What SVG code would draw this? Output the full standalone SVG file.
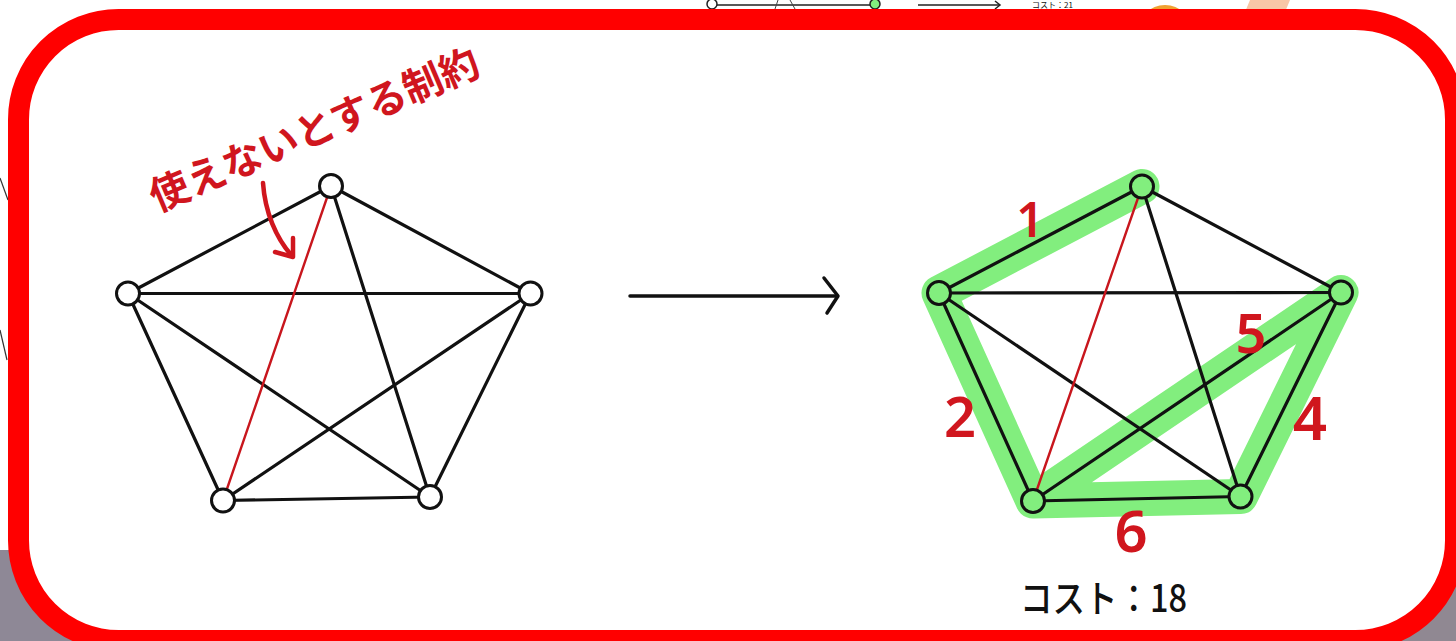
<svg xmlns="http://www.w3.org/2000/svg" width="1456" height="641" viewBox="0 0 1456 641">
  <style>
    .edge { stroke: #111; stroke-width: 3.2; stroke-linecap: round; fill: none; }
    .redge { stroke: #c8161d; stroke-width: 2.4; stroke-linecap: round; fill: none; }
    .node { stroke: #111; stroke-width: 3; fill: #ffffff; }
    .gnode { stroke: #111; stroke-width: 3; fill: #82ee7e; }
    .lbl { font-family: "Noto Sans", "Liberation Sans", sans-serif; font-weight: 600; fill: #d0161e; text-anchor: middle; }
    .jp { font-family: "Noto Sans CJK JP", "Noto Sans", sans-serif; }
  </style>

  <!-- background clutter from the screenshot -->
  <g id="background">
    <rect x="0" y="0" width="1456" height="641" fill="#ffffff"/>
    <rect x="0" y="550" width="130" height="91" fill="#8e8896"/>
    <rect x="1380" y="585" width="76" height="56" fill="#908892"/>
    <line x1="712" y1="5" x2="875" y2="5" stroke="#222" stroke-width="1.5"/>
    <line x1="778" y1="0" x2="775" y2="9" stroke="#444" stroke-width="1"/>
    <line x1="790" y1="0" x2="795" y2="9" stroke="#444" stroke-width="1"/>
    <circle cx="712" cy="4" r="5" fill="#fff" stroke="#222" stroke-width="1.5"/>
    <circle cx="875" cy="4" r="5" fill="#82ee7e" stroke="#222" stroke-width="1.5"/>
    <line x1="918" y1="5" x2="1000" y2="5" stroke="#222" stroke-width="1.5"/>
    <polyline points="995,1 1000,5 995,9" fill="none" stroke="#222" stroke-width="1.5"/>
    <text x="1032" y="7.5" class="jp" font-size="8" fill="#111">コスト：21</text>
    <circle cx="1165" cy="32" r="24" fill="none" stroke="#f0a030" stroke-width="6"/>
    <path d="M1250,0 L1290,0 L1285,12 L1245,12 Z" fill="#f8c6a6"/>
    <line x1="0" y1="178" x2="8" y2="200" stroke="#333" stroke-width="1.2"/>
    <line x1="0" y1="330" x2="7" y2="360" stroke="#333" stroke-width="1.2"/>
  </g>

  <!-- red frame -->
  <g id="frame">
    <rect x="18.5" y="19.5" width="1437" height="621" rx="100" ry="100" fill="#ffffff" stroke="#ff0000" stroke-width="21"/>
  </g>

  <!-- green highlight of chosen path -->
  <g id="highlight">
    <path d="M1142,186.5 L939,293 L1033,501 L1341,292.5 L1240.5,496.5 L1033,501" fill="none" stroke="#82ee7e" stroke-width="35" stroke-linejoin="round" stroke-linecap="round"/>
  </g>

  <g id="connectors">
    <!-- left graph -->
    <line class="edge" x1="331" y1="186" x2="128" y2="293.5"/>
    <line class="edge" x1="331" y1="186" x2="530.5" y2="293.5"/>
    <line class="edge" x1="331" y1="186" x2="430" y2="497"/>
    <line class="edge" x1="128" y1="293.5" x2="530.5" y2="293.5"/>
    <line class="edge" x1="128" y1="293.5" x2="223" y2="500.5"/>
    <line class="edge" x1="128" y1="293.5" x2="430" y2="497"/>
    <line class="edge" x1="530.5" y1="293.5" x2="223" y2="500.5"/>
    <line class="edge" x1="530.5" y1="293.5" x2="430" y2="497"/>
    <line class="edge" x1="223" y1="500.5" x2="430" y2="497"/>
    <line class="redge" x1="331" y1="186" x2="223" y2="500.5"/>
    <!-- right graph -->
    <line class="edge" x1="1142" y1="186.5" x2="939" y2="293"/>
    <line class="edge" x1="1142" y1="186.5" x2="1341" y2="292.5"/>
    <line class="edge" x1="1142" y1="186.5" x2="1240.5" y2="496.5"/>
    <line class="edge" x1="939" y1="293" x2="1341" y2="292.5"/>
    <line class="edge" x1="939" y1="293" x2="1033" y2="501"/>
    <line class="edge" x1="939" y1="293" x2="1240.5" y2="496.5"/>
    <line class="edge" x1="1341" y1="292.5" x2="1033" y2="501"/>
    <line class="edge" x1="1341" y1="292.5" x2="1240.5" y2="496.5"/>
    <line class="edge" x1="1033" y1="501" x2="1240.5" y2="496.5"/>
    <line class="redge" x1="1142" y1="186.5" x2="1033" y2="501"/>
    <!-- transformation arrow -->
    <line x1="630" y1="296" x2="837" y2="296" stroke="#111" stroke-width="3.5" stroke-linecap="round"/>
    <polyline points="824,278 838,296 827,313" fill="none" stroke="#111" stroke-width="3.5" stroke-linecap="round" stroke-linejoin="round"/>
    <!-- red annotation arrow -->
    <path d="M263,183 C265,212 276,238 292,256" fill="none" stroke="#d0161e" stroke-width="4.5" stroke-linecap="round"/>
    <polyline points="275,252 293,257 293,238" fill="none" stroke="#d0161e" stroke-width="4.5" stroke-linecap="round" stroke-linejoin="round"/>
  </g>

  <!-- left graph nodes -->
  <g id="L-top"><circle class="node" cx="331" cy="186" r="11.5"/></g>
  <g id="L-left"><circle class="node" cx="128" cy="293.5" r="11.5"/></g>
  <g id="L-right"><circle class="node" cx="530.5" cy="293.5" r="11.5"/></g>
  <g id="L-bottomleft"><circle class="node" cx="223" cy="500.5" r="11.5"/></g>
  <g id="L-bottomright"><circle class="node" cx="430" cy="497" r="11.5"/></g>

  <!-- right graph nodes -->
  <g id="R-top"><circle class="gnode" cx="1142" cy="186.5" r="11.5"/></g>
  <g id="R-left"><circle class="gnode" cx="939" cy="293" r="11.5"/></g>
  <g id="R-right"><circle class="gnode" cx="1341" cy="292.5" r="11.5"/></g>
  <g id="R-bottomleft"><circle class="gnode" cx="1033" cy="501" r="11.5"/></g>
  <g id="R-bottomright"><circle class="gnode" cx="1240.5" cy="496.5" r="11.5"/></g>

  <!-- labels -->
  <g id="labels">
    <text x="320" y="143" transform="rotate(-23 320 143)" text-anchor="middle" class="jp" font-size="40" font-weight="700" fill="#d0161e" textLength="354" lengthAdjust="spacingAndGlyphs">使えないとする制約</text>
    <text class="lbl" x="1030" y="237" font-size="48">1</text>
    <text class="lbl" x="960" y="437" font-size="56">2</text>
    <text class="lbl" x="1251" y="353" font-size="54">5</text>
    <text class="lbl" x="1310" y="440" font-size="60">4</text>
    <text class="lbl" x="1131" y="552" font-size="58">6</text>
    <text x="1020" y="612" class="jp" font-size="38" font-weight="500" fill="#111" textLength="167" lengthAdjust="spacingAndGlyphs">コスト：18</text>
  </g>
</svg>
